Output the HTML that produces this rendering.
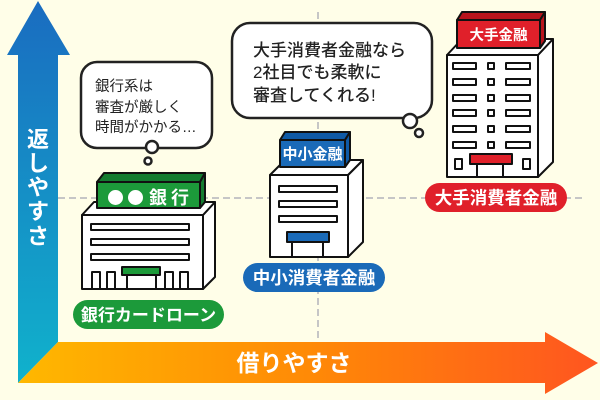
<!DOCTYPE html>
<html><head><meta charset="utf-8">
<style>
html,body{margin:0;padding:0;background:#fffee8;}
svg{display:block;}
text{font-family:"Liberation Sans","Noto Sans CJK JP",sans-serif;}
</style></head>
<body>
<svg width="600" height="400" viewBox="0 0 600 400" xmlns="http://www.w3.org/2000/svg">
<defs>
<linearGradient id="gv" x1="0" y1="0" x2="0" y2="1">
<stop offset="0" stop-color="#1a6cc0"/>
<stop offset="1" stop-color="#10b2cc"/>
</linearGradient>
<linearGradient id="gh" x1="0" y1="0" x2="1" y2="0">
<stop offset="0" stop-color="#ffb800"/>
<stop offset="0.5" stop-color="#ff8a06"/>
<stop offset="1" stop-color="#ff5520"/>
</linearGradient>
</defs>
<rect width="600" height="400" fill="#fffee8"/>

<line x1="58" y1="198" x2="582" y2="198" stroke="#c6c6c6" stroke-width="2" stroke-dasharray="7,4"/>
<line x1="318" y1="12" x2="318" y2="342" stroke="#c6c6c6" stroke-width="2" stroke-dasharray="7,4"/>

<polygon points="38,1 70,55 58,55 58,342 18,383 18,55 7,55" fill="url(#gv)"/>
<polygon points="58,342 545,342 545,332 598,363 545,394 545,383 18,383" fill="url(#gh)"/>

<g fill="#fff" font-weight="bold" font-size="22" text-anchor="middle">
<text x="38" y="147">返</text>
<text x="38" y="171">し</text>
<text x="38" y="195">や</text>
<text x="38" y="219">す</text>
<text x="38" y="244">さ</text>
</g>
<text x="294" y="371" fill="#fff" font-weight="bold" font-size="23" text-anchor="middle">借りやすさ</text>

<rect x="81" y="62" width="131" height="86" rx="16" fill="#fff" stroke="#222" stroke-width="2.5"/>
<circle cx="152" cy="147" r="6" fill="#fff" stroke="#222" stroke-width="2.5"/>
<circle cx="148" cy="161" r="3.5" fill="#fff" stroke="#222" stroke-width="2.5"/>
<g font-size="14.5" fill="#222">
<text x="95" y="91">銀行系は</text>
<text x="95" y="112">審査が厳しく</text>
<text x="95" y="132">時間がかかる…</text>
</g>

<rect x="232" y="23" width="200" height="95" rx="18" fill="#fff" stroke="#222" stroke-width="2.5"/>
<circle cx="410" cy="121" r="7" fill="#fff" stroke="#222" stroke-width="2.5"/>
<circle cx="419" cy="133" r="4" fill="#fff" stroke="#222" stroke-width="2.5"/>
<g font-size="17" fill="#222" font-weight="500">
<text x="253" y="56">大手消費者金融なら</text>
<text x="253" y="78">2社目でも柔軟に</text>
<text x="253" y="101">審査してくれる!</text>
</g>

<g stroke="#111" stroke-width="2" stroke-linejoin="round">
<polygon points="203,215 215,202 215,277 203,289" fill="#fff"/>
<polygon points="82,215 94,202 215,202 203,215" fill="#fff"/>
<rect x="82" y="215" width="121" height="74" fill="#fff"/>
<polygon points="97,182 104,173 205,173 200,182" fill="#137c30"/>
<polygon points="200,182 205,173 205,202 200,208" fill="#137c30"/>
<rect x="97" y="182" width="103" height="26" fill="#1c9a3a"/>
<rect x="91" y="224" width="98" height="6" fill="#fff"/>
<rect x="91" y="239" width="98" height="6" fill="#fff"/>
<rect x="91" y="254" width="98" height="6" fill="#fff"/>
<polyline points="127,275 127,289 156,289 156,275" fill="#fff"/>
<rect x="122" y="267" width="38" height="8" fill="#1c9a3a"/>
<rect x="92" y="272" width="8" height="17" fill="#fff"/>
<rect x="107" y="272" width="8" height="17" fill="#fff"/>
<rect x="165" y="272" width="8" height="17" fill="#fff"/>
<rect x="180" y="272" width="8" height="17" fill="#fff"/>
</g>
<circle cx="115.5" cy="197.5" r="7.5" fill="#fff"/>
<circle cx="135.5" cy="197.5" r="7.5" fill="#fff"/>
<text x="149" y="204" fill="#fff" font-weight="bold" font-size="18" letter-spacing="4">銀行</text>

<rect x="73" y="300" width="151" height="29" rx="14.5" fill="#1c9a3a"/>
<text x="148.5" y="321" fill="#fff" font-weight="bold" font-size="17" text-anchor="middle">銀行カードローン</text>

<g stroke="#111" stroke-width="2" stroke-linejoin="round">
<polygon points="348,175 363,160 363,242 348,257" fill="#fff"/>
<polygon points="270,175 285,160 363,160 348,175" fill="#fff"/>
<rect x="270" y="175" width="78" height="82" fill="#fff"/>
<polygon points="280,140 285,132 350,132 345,140" fill="#0f5aa6"/>
<polygon points="345,140 350,132 350,160 345,167" fill="#0f5aa6"/>
<rect x="280" y="140" width="65" height="27" fill="#1a6ab8"/>
<rect x="279" y="186" width="58" height="6" fill="#fff"/>
<rect x="279" y="201" width="58" height="6" fill="#fff"/>
<rect x="279" y="216" width="58" height="6" fill="#fff"/>
<polyline points="292,242 292,257 323,257 323,242" fill="#fff"/>
<rect x="287" y="232" width="42" height="10" fill="#1a6ab8"/>
</g>
<text x="312.5" y="159" fill="#fff" font-weight="bold" font-size="15" text-anchor="middle">中小金融</text>
<rect x="243" y="263" width="142" height="29" rx="14.5" fill="#1a6ab8"/>
<text x="314" y="284" fill="#fff" font-weight="bold" font-size="17.5" text-anchor="middle">中小消費者金融</text>

<g stroke="#111" stroke-width="2" stroke-linejoin="round">
<polygon points="538,55 553,39 553,162 538,177" fill="#fff"/>
<polygon points="447,55 462,39 553,39 538,55" fill="#fff"/>
<rect x="447" y="55" width="91" height="122" fill="#fff"/>
<polygon points="457,20 462,12 545,12 540,20" fill="#b8141c"/>
<polygon points="540,20 545,12 545,41 540,48" fill="#b8141c"/>
<rect x="457" y="20" width="83" height="28" fill="#e0202a"/>
<g fill="#fff">
<rect x="453" y="63" width="23" height="6"/><rect x="488" y="63" width="6" height="6"/><rect x="506" y="63" width="24" height="6"/>
<rect x="453" y="79" width="23" height="6"/><rect x="488" y="79" width="6" height="6"/><rect x="506" y="79" width="24" height="6"/>
<rect x="453" y="95" width="23" height="6"/><rect x="488" y="95" width="6" height="6"/><rect x="506" y="95" width="24" height="6"/>
<rect x="453" y="110" width="23" height="6"/><rect x="488" y="110" width="6" height="6"/><rect x="506" y="110" width="24" height="6"/>
<rect x="453" y="126" width="23" height="6"/><rect x="488" y="126" width="6" height="6"/><rect x="506" y="126" width="24" height="6"/>
<rect x="453" y="142" width="23" height="6"/><rect x="488" y="142" width="6" height="6"/><rect x="506" y="142" width="24" height="6"/>
<rect x="455" y="159" width="7" height="10"/><rect x="523" y="159" width="7" height="10"/>
</g>
<polyline points="477,164 477,177 503,177 503,164" fill="#fff"/>
<rect x="470" y="154" width="42" height="10" fill="#e0202a"/>
</g>
<text x="498.5" y="40" fill="#fff" font-weight="bold" font-size="14.5" text-anchor="middle">大手金融</text>
<rect x="425" y="183" width="142" height="29" rx="14.5" fill="#e0202a"/>
<text x="496" y="204" fill="#fff" font-weight="bold" font-size="17.5" text-anchor="middle">大手消費者金融</text>
</svg>
</body></html>
